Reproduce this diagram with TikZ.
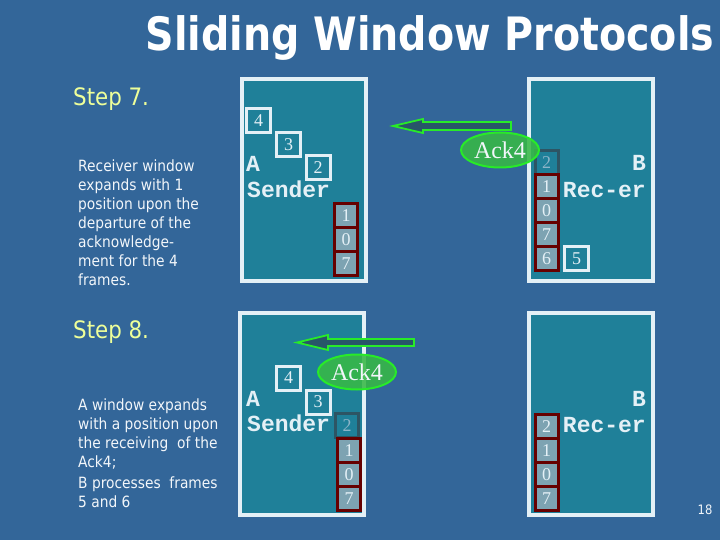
\documentclass[tikz,border=0pt]{standalone}
\usepackage{fontspec}
\setmainfont{Liberation Serif}
\newfontfamily\tahoma[FakeStretch=0.89]{DejaVu Sans}
\newfontfamily\titlefont[FakeStretch=0.86]{DejaVu Sans}
\newfontfamily\monofont{Liberation Mono}
\usetikzlibrary{shapes.geometric}
\definecolor{bg}{RGB}{51,102,153}
\definecolor{boxfill}{RGB}{31,128,153}
\definecolor{boxline}{RGB}{228,240,246}
\definecolor{cellfill}{RGB}{125,163,178}
\definecolor{cellline}{RGB}{102,0,0}
\definecolor{pendline}{RGB}{45,85,100}
\definecolor{pendtext}{RGB}{140,180,200}
\definecolor{ackfill}{RGB}{55,185,70}
\definecolor{ackline}{RGB}{40,235,40}
\definecolor{arrowfill}{RGB}{40,85,105}
\definecolor{steptext}{RGB}{238,255,153}
\definecolor{bodytext}{RGB}{242,246,250}
\tikzset{
  winbox/.style={draw=boxline, line width=4pt, fill=boxfill, minimum width=124pt, minimum height=202pt, inner sep=0pt},
  numbox/.style={draw=boxline, line width=3pt, fill=boxfill, minimum width=24pt, minimum height=24pt, inner sep=0pt, text=boxline, font=\fontsize{18}{18}\selectfont},
  cell/.style={draw=cellline, line width=3pt, fill=cellfill, minimum width=23pt, minimum height=24pt, inner sep=0pt, text=boxline, font=\fontsize{18}{18}\selectfont},
  pending/.style={cell, draw=pendline, fill=boxfill, text=pendtext},
  ack/.style={ellipse, draw=ackline, line width=2pt, fill=ackfill, fill opacity=0.88, text opacity=1, minimum width=78pt, minimum height=35pt, inner sep=0pt, text=bodytext, font=\fontsize{24}{24}\selectfont},
  lbl/.style={text=boxline, font=\monofont\bfseries\fontsize{23}{23}\selectfont, inner sep=0pt},
  ackarrow/.style={draw=ackline, line width=1.8pt, fill=arrowfill, line join=miter},
  steplbl/.style={text=steptext, font=\tahoma\fontsize{24}{24}\selectfont, inner sep=0pt, anchor=base west},
  body/.style={text=bodytext, font=\tahoma\fontsize{15.5}{19}\selectfont, inner sep=0pt, anchor=base west}
}
\begin{document}
\begin{tikzpicture}[x=1pt,y=-1pt]
\fill[bg] (0,0) rectangle (720,540);
\useasboundingbox (0,0) rectangle (720,540);
% title
\node[anchor=base, inner sep=0pt, text=white, font=\titlefont\bfseries\fontsize{46}{46}\selectfont] (title) at (430,51) {Sliding Window Protocols};
% left texts
\node[steplbl] (step7) at (73,106) {Step 7.};
\node[body] (text7) at (78,172) {\parbox[t]{150pt}{\raggedright Receiver window\\expands with 1\\position upon the\\departure of the\\acknowledge-\\ment for the 4\\frames.}};
\node[steplbl] (step8) at (73,338) {Step 8.};
\node[body] (text8a) at (78,410) {\parbox[t]{160pt}{\raggedright A window expands\\with a position upon\\the receiving~ of the\\Ack4;}};
\node[body] (text8b) at (78,488) {\parbox[t]{160pt}{\raggedright B processes~ frames\\5 and 6}};
% step 7 boxes
\node[winbox] (senderA7) at (303.5,180) {};
\node[winbox] (recvB7) at (591,180) {};
\node[numbox] (a7n4) at (258.5,120.5) {4};
\node[numbox] (a7n3) at (288.5,145) {3};
\node[numbox] (a7n2) at (318,168) {2};
\node[lbl, anchor=base west] (a7A) at (246,172) {A};
\node[lbl, anchor=base west] (a7S) at (247,198) {Sender};
\node[cell] (a7c1) at (346,215.5) {1};
\node[cell] (a7c0) at (346,239.5) {0};
\node[cell] (a7c7) at (346,263.5) {7};
\node[lbl, anchor=base east] (b7B) at (646,171) {B};
\node[lbl, anchor=base east] (b7R) at (646,198) {Rec-er};
\node[pending] (b7c2) at (546.5,162.5) {2};
\node[cell] (b7c1) at (546.5,186.5) {1};
\node[cell] (b7c0) at (546.5,210.5) {0};
\node[cell] (b7c7) at (546.5,234.5) {7};
\node[cell] (b7c6) at (546.5,258.5) {6};
\node[numbox] (b7n5) at (576.5,258.5) {5};
\node[ack] (ack7) at (500,150) {Ack4};
\draw[ackarrow] (393,126) -- (423,119) -- (423,122) -- (511,122) -- (511,130) -- (423,130) -- (423,133) -- cycle;
% step 8 boxes
\node[winbox] (senderA8) at (302,413.5) {};
\node[winbox] (recvB8) at (591,414) {};
\node[numbox] (a8n4) at (288.5,378) {4};
\node[numbox] (a8n3) at (318,402) {3};
\node[lbl, anchor=base west] (a8A) at (246,406) {A};
\node[lbl, anchor=base west] (a8S) at (247,431) {Sender};
\node[pending] (a8c2) at (347,425.5) {2};
\node[cell] (a8c1) at (349,450.5) {1};
\node[cell] (a8c0) at (349,474.5) {0};
\node[cell] (a8c7) at (349,498.5) {7};
\node[lbl, anchor=base east] (b8B) at (646,406) {B};
\node[lbl, anchor=base east] (b8R) at (646,432) {Rec-er};
\node[cell] (b8c2) at (546.5,426.5) {2};
\node[cell] (b8c1) at (546.5,450.5) {1};
\node[cell] (b8c0) at (546.5,474.5) {0};
\node[cell] (b8c7) at (546.5,498.5) {7};
\node[ack] (ack8) at (357,372) {Ack4};
\draw[ackarrow] (297,342.5) -- (328,335) -- (328,339) -- (414,339) -- (414,346) -- (328,346) -- (328,350) -- cycle;
% page number
\node[text=bodytext, font=\tahoma\fontsize{13}{13}\selectfont, inner sep=0pt] (pagenum) at (705,510) {18};
\end{tikzpicture}
\end{document}
